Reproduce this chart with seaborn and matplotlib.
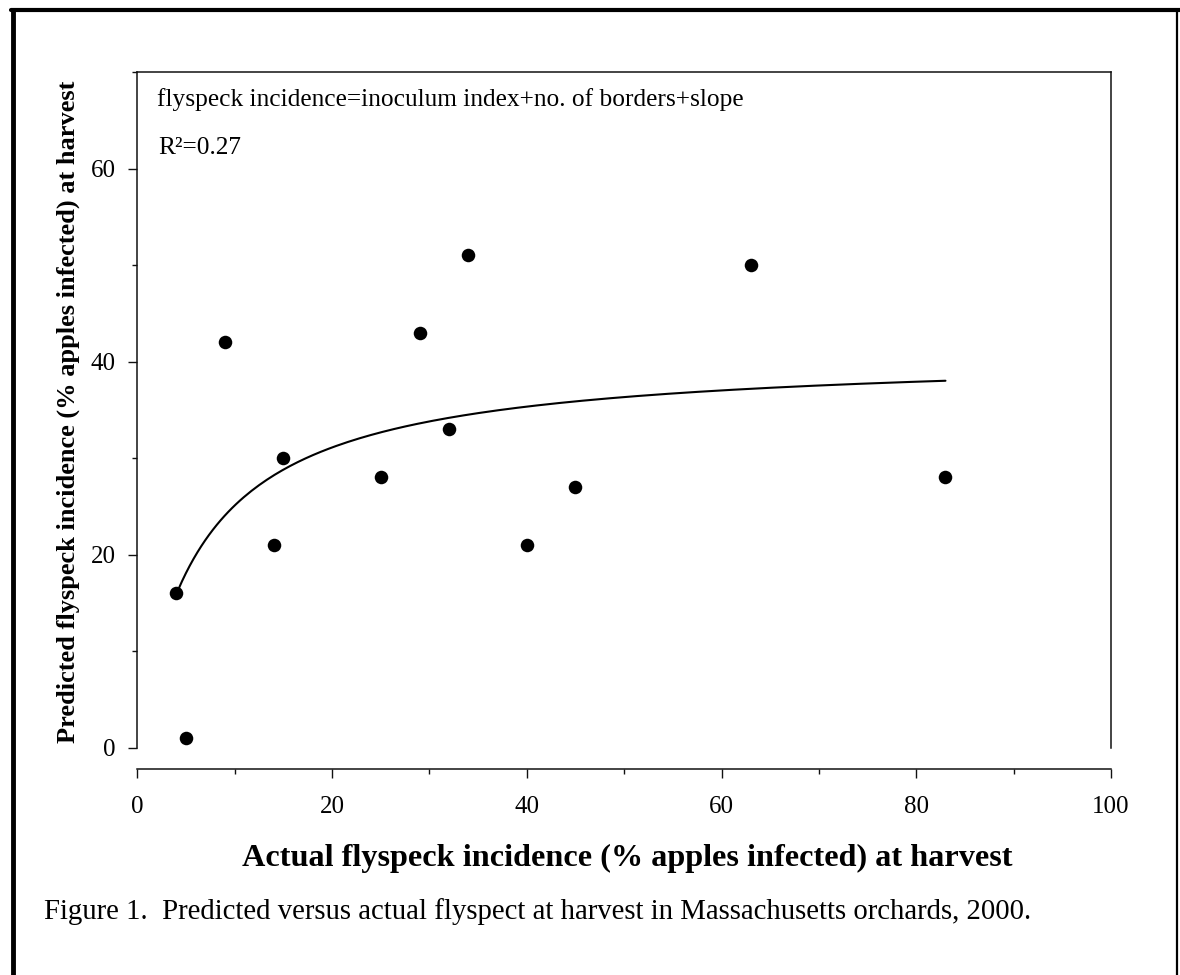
import numpy as np
import pandas as pd
import matplotlib
matplotlib.use("Agg")
import matplotlib.pyplot as plt
from matplotlib.lines import Line2D
from matplotlib.ticker import MultipleLocator
import seaborn as sns

# ---- data ----
actual = [4, 5, 9, 14, 15, 25, 29, 32, 34, 40, 45, 63, 83]
predicted = [16, 1, 42, 21, 30, 28, 43, 33, 51, 21, 27, 50, 28]

# fitted trend curve (saturating model y = a*x/(b+x))
fit_a = 40.9
fit_b = 6.3
fit_x_range = [4.2, 83]

x_ticks = [0, 20, 40, 60, 80, 100]
y_ticks = [0, 20, 40, 60]

equation_text = "flyspeck incidence=inoculum index+no. of borders+slope"
r2_text = "R\u00b2=0.27"
x_label = "Actual flyspeck incidence (% apples infected) at harvest"
y_label = "Predicted flyspeck incidence (% apples infected) at harvest"
caption = "Figure 1.  Predicted versus actual flyspect at harvest in Massachusetts orchards, 2000."

# ---- styling ----
sns.set_style("ticks")
plt.rcParams["font.family"] = ["Liberation Serif", "DejaVu Serif"]
plt.rcParams["text.color"] = "black"

W, H = 1180, 975
fig = plt.figure(figsize=(W / 100, H / 100), dpi=100)
ax = fig.add_axes([137.3 / W, 1 - 747.7 / H, (1111 - 137.3) / W, (747.7 - 72) / H])

df = pd.DataFrame({"actual": actual, "predicted": predicted})
sns.scatterplot(data=df, x="actual", y="predicted", ax=ax, color="black",
                s=95, edgecolor="black", linewidth=0, zorder=3)

cx = np.linspace(fit_x_range[0], fit_x_range[1], 200)
cy = fit_a * cx / (fit_b + cx)
sns.lineplot(x=cx, y=cy, ax=ax, color="black", linewidth=1.5, sort=False,
             estimator=None, zorder=2)

ax.set_xlim(0, 100)
ax.set_ylim(0, 70)
ax.set_xticks(x_ticks)
ax.set_yticks(y_ticks)
ax.xaxis.set_minor_locator(MultipleLocator(10))
ax.yaxis.set_minor_locator(MultipleLocator(10))

for s in ax.spines.values():
    s.set_linewidth(1.1)
    s.set_color("#111111")
ax.spines["bottom"].set_position(("outward", 15))

ax.tick_params(axis="both", which="major", direction="out", length=6.5, width=1.0,
               colors="#111111", labelsize=18, labelcolor="black")
ax.tick_params(axis="both", which="minor", direction="out", length=3.5, width=1.0,
               colors="#111111")
ax.tick_params(axis="y", which="major", pad=9)
ax.tick_params(axis="x", which="major", pad=13)

ax.set_xlabel("")
ax.set_ylabel("")

# axis titles
fig.text(627 / W, 1 - 858 / H, x_label, ha="center", va="center",
         fontsize=23.2, fontweight="bold")
fig.text(68 / W, 1 - 412 / H, y_label, ha="center", va="center",
         fontsize=19, fontweight="bold", rotation=90)

# annotations inside the plot
ax.text(157 / W, 1 - 100 / H, equation_text, transform=fig.transFigure,
        ha="left", va="center", fontsize=18.3)
ax.text(158 / W, 1 - 148 / H, r2_text, transform=fig.transFigure,
        ha="left", va="center", fontsize=18.3)

# caption
fig.text(44 / W, 1 - 912 / H, caption, ha="left", va="center", fontsize=20.7)

# outer frame
fig.add_artist(Line2D([13 / W, 13 / W], [0, 1 - 10 / H], lw=3.5, color="black",
                      transform=fig.transFigure))
fig.add_artist(Line2D([11 / W, 1], [1 - 10 / H, 1 - 10 / H], lw=3.0, color="black",
                      transform=fig.transFigure))
fig.add_artist(Line2D([1177 / W, 1177 / W], [0, 1 - 10 / H], lw=1.6, color="black",
                      transform=fig.transFigure))

fig.savefig("out.png", dpi=100, facecolor="white")
